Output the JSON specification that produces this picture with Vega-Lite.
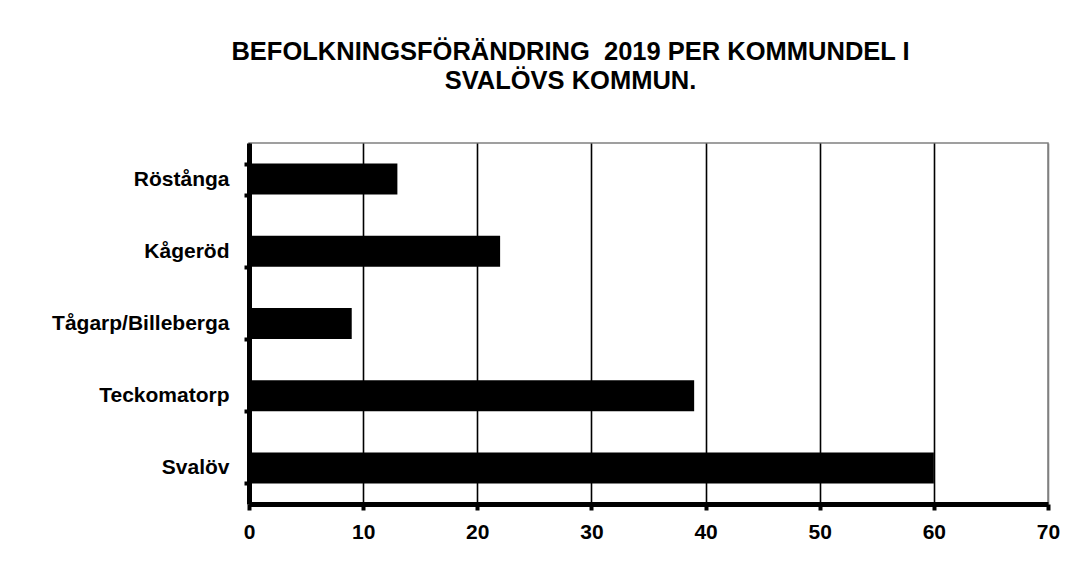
{
  "$schema": "https://vega.github.io/schema/vega-lite/v6.json",
  "width": 799,
  "height": 361,
  "autosize": {"type": "none"},
  "padding": {"left": 249, "top": 143, "right": 36, "bottom": 73},
  "background": "white",
  "title": {
    "text": ["BEFOLKNINGSFÖRÄNDRING \u00a02019 PER KOMMUNDEL I", "SVALÖVS KOMMUN."],
    "font": "Liberation Sans",
    "fontSize": 25.5,
    "fontWeight": "bold",
    "color": "black",
    "anchor": "middle",
    "frame": "group",
    "dx": -78,
    "lineHeight": 29,
    "offset": 38
  },
  "data": {
    "values": [
      {"kommundel": "Röstånga", "forandring": 13},
      {"kommundel": "Kågeröd", "forandring": 22},
      {"kommundel": "Tågarp/Billeberga", "forandring": 9},
      {"kommundel": "Teckomatorp", "forandring": 39},
      {"kommundel": "Svalöv", "forandring": 60}
    ]
  },
  "mark": {"type": "bar", "color": "black"},
  "encoding": {
    "y": {
      "field": "kommundel",
      "type": "nominal",
      "sort": null,
      "title": null,
      "scale": {"paddingInner": 0.57, "paddingOuter": 0.285},
      "axis": {
        "labelFont": "Liberation Sans",
        "labelFontSize": 21,
        "labelFontWeight": "bold",
        "labelColor": "black",
        "labelPadding": 15,
        "domainColor": "black",
        "domainWidth": 5,
        "tickBand": "extent",
        "tickColor": "black",
        "tickWidth": 4,
        "tickSize": 5,
        "grid": false
      }
    },
    "x": {
      "field": "forandring",
      "type": "quantitative",
      "title": null,
      "scale": {"domain": [0, 70], "nice": false},
      "axis": {
        "values": [0, 10, 20, 30, 40, 50, 60, 70],
        "labelFont": "Liberation Sans",
        "labelFontSize": 21,
        "labelFontWeight": "bold",
        "labelColor": "black",
        "labelPadding": 11,
        "labelFlush": false,
        "domainColor": "black",
        "domainWidth": 5,
        "tickColor": "black",
        "tickWidth": 4,
        "tickSize": 6,
        "grid": true,
        "gridWidth": 1.6,
        "gridOpacity": 1,
        "gridColor": {"condition": {"test": "datum.value == 70", "value": "#808080"}, "value": "black"}
      }
    }
  },
  "config": {
    "view": {"stroke": "#808080", "strokeWidth": 1.5}
  }
}
